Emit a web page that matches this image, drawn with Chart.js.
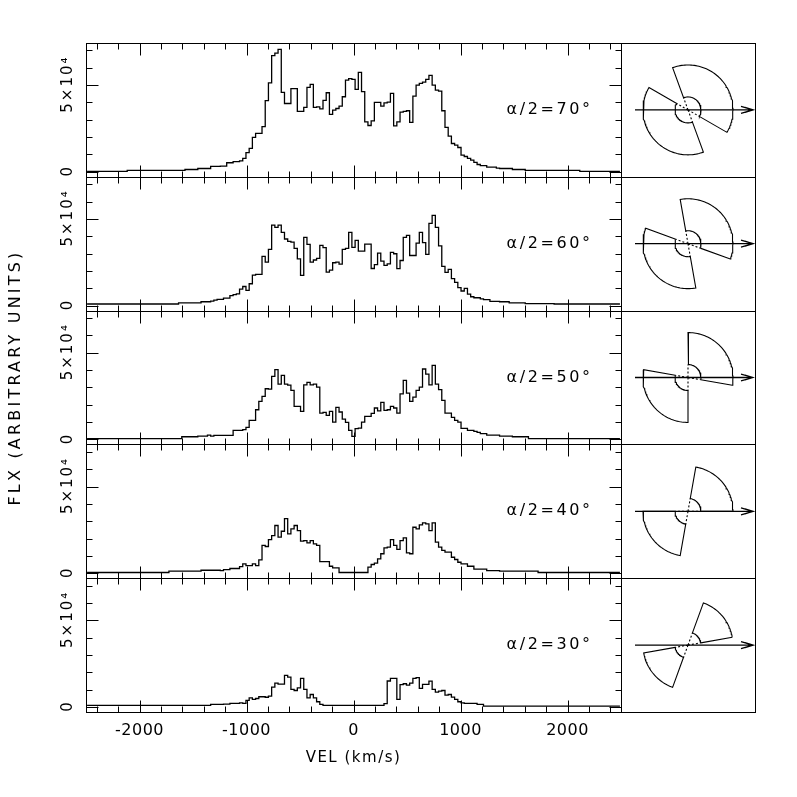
<!DOCTYPE html>
<html>
<head>
<meta charset="utf-8">
<script src="https://cdn.jsdelivr.net/npm/chart.js@4.4.1/dist/chart.umd.min.js"></script>
<style>
  html, body { margin: 0; padding: 0; background: #fff; }
  #wrap { position: relative; width: 797px; height: 797px; }
  #wrap canvas { position: absolute; left: 0; top: 0; }
</style>
</head>
<body>
<div id="wrap">
  <canvas id="spec" width="797" height="797"></canvas>
  <canvas id="cones" width="797" height="797"></canvas>
</div>
<script>
// velocity bins: centres from -2490 km/s, 30 km/s wide
var VEL_FIRST = -2490, VEL_STEP = 30;

// cone half opening angles, one per panel (top to bottom)
var halfAngles = [70, 60, 50, 40, 30];

// fluxes in units of 10^3 (arbitrary units), one value per velocity bin
var flux70 = [
  0.2,0.2,0.2,0.2,0.2,0.2,0.2,0.2,0.2,0.2,
  0.2,0.2,0.2,0.8,0.8,0.8,0.8,0.8,0.8,0.8,
  0.8,0.8,0.8,0.8,0.8,0.8,0.8,0.8,0.8,0.8,
  0.8,1.3,1.3,1.3,1.3,1.9,1.9,1.9,1.9,3.1,
  3.1,3.1,3.3,3.3,5.2,5.2,5.8,5.8,6.3,7.7,
  11,13.5,19.8,22.1,22.1,26,41,51.3,67,68.5,
  70.6,45.8,39.4,39.4,48,48,34.8,34.8,37.1,48.7,
  50.4,37.1,37.5,36.3,41.2,45.6,33.1,35.6,36.5,37.9,
  43.3,52.9,53.7,53.3,47.5,57.3,46.2,28.8,26.7,29.4,
  40,40,37.9,39.8,40.2,45.2,26.5,28.8,34.4,34.8,
  35.2,28.5,43.7,50,51,51.7,53.3,55.6,50,47.1,
  46.5,35.2,25.6,20.6,16.3,15.4,14,9.6,8.8,7.7,
  6.7,5.4,4.2,3.5,3.5,2.7,2.7,2.7,2.1,1.9,
  1.9,1.9,1.9,1.3,1.3,1.3,1.3,0.8,0.8,0.8,
  0.8,0.8,0.8,0.8,0.8,0.8,0.8,0.8,0.8,0.8,
  0.8,0.8,0.8,0.8,0.2,0.2,0.2,0.2,0.2,0.2,
  0.2,0.2,0.2,0.2,0.2,0.2,0.2
];
var flux60 = [
  0.9,0.9,0.9,0.9,0.9,0.9,0.9,0.9,0.9,0.9,
  0.9,0.9,0.9,0.9,0.9,0.9,0.9,0.9,0.9,0.9,
  0.9,0.9,0.9,0.9,0.9,0.9,0.9,0.9,0.9,1.6,
  1.6,1.6,1.6,1.6,1.6,1.6,2.2,2.2,2.2,2.6,
  3.2,3.6,3.6,4.3,4.3,5.7,6.3,6.8,9.5,11,
  8.8,12.6,17.6,18,18,28.4,25.1,32.4,46.4,45.1,
  46.4,42.2,38.4,37,36.6,33,27,17.4,39.3,35.3,
  25.1,26.3,27.2,34.7,33.4,19.3,20.5,24.7,25.1,23.9,
  32.4,33,42.2,33.6,37.6,31.4,31.4,35.5,35.5,21.4,
  23.6,30.3,25.7,23.2,24.1,30.7,29.9,21.3,26,39.3,
  40.5,28.9,28.9,36,42.2,36.3,29.5,47.4,52,45.1,
  34.5,22.6,19.1,20.9,15.5,13.4,10.3,8.4,9.9,6.6,
  5.1,4.5,4.5,3.9,3.4,3.4,2.4,2.4,2.4,2.2,
  2.2,2.2,1.6,1.6,1.6,1.6,1.6,1.1,1.1,1.1,
  1.1,1.1,1.1,1.1,1.1,1.1,0.9,0.9,0.9,0.9,
  0.9,0.9,0.9,0.9,0.9,0.9,0.9,0.9,0.9,0.9,
  0.9,0.9,0.9,0.9,0.9,0.9,0.9
];
var flux50 = [
  0.4,0.4,0.4,0.4,0.4,0.4,0.4,0.4,0.4,0.4,
  0.4,0.4,0.4,0.4,0.4,0.4,0.4,0.4,0.4,0.4,
  0.4,0.4,0.4,0.4,0.4,0.4,0.4,0.4,0.4,0.4,
  1.5,1.5,1.5,1.5,1.5,1.9,1.9,1.9,2.5,1.9,
  2.3,2.3,2.3,2.3,2.3,2.3,5.2,5.2,5.2,5.6,
  6.9,11,11,17.1,21.9,24.8,29.2,29,36.3,40.2,
  31.9,36.9,31.9,31.3,28.3,19,19,16.2,31.5,32.9,
  31.5,31.9,30.2,15.2,15.6,13.8,16.2,10,18.5,15.8,
  11.7,9.8,5.2,1.7,6.2,6.5,10,13.3,13.3,15,
  18.1,16.5,21.3,16.7,17.1,19,18.1,15.2,26.3,34,
  26.7,21.9,24.4,28.3,30.2,40.6,37.7,31.5,42.7,31.9,
  28.7,22.5,15.2,15.2,12.7,11,10,6.3,6.3,5.2,
  5.2,4.6,4,3.3,3.3,2.5,2.5,2.5,2.5,1.9,
  1.9,1.9,1.9,1.5,1.5,1.5,1.5,1.5,0.4,0.4,
  0.4,0.4,0.4,0.4,0.4,0.4,0.4,0.4,0.4,0.4,
  0.4,0.4,0.4,0.4,0.4,0.4,0.4,0.4,0.4,0.4,
  0.4,0.4,0.4,0.4,0.4,0.4,0.4
];
var flux40 = [
  0.4,0.4,0.4,0.4,0.4,0.4,0.4,0.4,0.4,0.4,
  0.4,0.4,0.4,0.4,0.4,0.4,0.4,0.4,0.4,0.4,
  0.4,0.4,0.4,0.4,0.4,0.4,1.2,1.2,1.2,1.2,
  1.2,1.2,1.2,1.2,1.2,1.2,1.7,1.7,1.7,1.7,
  1.7,1.7,1.5,2.1,2.1,2.7,2.7,2.7,3.8,5.4,
  4.4,4.4,5.4,4.4,7.7,16,15.4,19.4,21.7,27.5,
  20.8,24.2,31.5,22.7,25.6,27.5,24.6,18.5,18.8,17.5,
  18.8,16.9,16,6.7,6.7,6.7,4,3.1,3.1,0.4,
  0.4,0.4,0.4,0.4,0.4,0.4,0.4,0.4,3.5,5,
  5.8,8.3,11.2,14.6,15,19.4,16,13.7,18.8,20.4,
  11.7,11.2,26.5,25.6,27.9,29,28.5,24.6,29,17.9,
  15,13.1,12.1,12.1,9.2,7.9,6.3,5.4,5.4,4,
  4,2.3,2.3,2.3,2.3,1.5,1.5,1.5,1.5,1.2,
  1.2,1.2,1.2,1.2,1.2,1.2,1.2,1.2,1.2,1.2,
  1.2,0.4,0.4,0.4,0.4,0.4,0.4,0.4,0.4,0.4,
  0.4,0.4,0.4,0.4,0.4,0.4,0.4,0.4,0.4,0.4,
  0.4,0.4,0.4,0.4,0.4,0.4,0.4
];
var flux30 = [
  0.9,0.9,0.9,0.9,0.9,0.9,0.9,0.9,0.9,0.9,
  0.9,0.9,0.9,0.9,0.9,0.9,0.9,0.9,0.9,0.9,
  0.9,0.9,0.9,0.9,0.9,0.9,0.9,0.9,0.9,0.9,
  0.9,0.9,0.9,0.9,0.9,0.9,0.9,0.9,0.9,1.5,
  1.5,1.5,1.5,1.7,1.7,2.1,2.1,2.1,2.4,2.1,
  3.8,5.3,4.4,4.9,5.9,5.9,5.6,6.3,11.5,13.8,
  13.2,13.2,18.2,17.2,10.1,9.5,11,16.5,10.1,5.3,
  7.2,5.3,3,1.5,0.9,0.9,0.9,0.9,0.9,0.9,
  0.9,0.9,0.9,0.9,0.9,0.9,0.9,0.9,0.9,0.9,
  0.9,0.9,0.9,1.9,15,16.5,16.5,4.4,12.9,13.4,
  12.6,13.8,16.5,16.9,10.7,13,13,14.9,10.1,8.6,
  9.2,9.5,6.8,7.2,5.7,4.4,3,2.4,2.1,2.1,
  2.1,2.1,1.5,1.5,0.5,0.5,0.5,0.5,0.5,0.5,
  0.5,0.5,0.5,0.5,0.5,0.5,0.5,0.5,0.5,0.5,
  0.5,0.5,0.5,0.5,0.5,0.5,0.5,0.5,0.5,0.5,
  0.5,0.5,0.5,0.5,0.5,0.5,0.5,0.5,0.5,0.5,
  0.5,0.5,0.5,0.5,0.5,0.5,0.5
];

var panels = [flux70, flux60, flux50, flux40, flux30];

var xTickLabels = [-2000, -1000, 0, 1000, 2000];
var yTickValues = [0, 50];
var yTickLabels = ['0', '5\u00d710\u2074'];

var X_MIN = -2500, X_MAX = 2500;
var Y_MIN = -2.9, Y_MAX = 74.3;

// cone sketch sizes, in pixels of the 134px box
var CONE_AXIS = 40, R_OUT = 45, R_IN = 13;

var FONT = '"DejaVu Sans", sans-serif';

function crisp(v) { return Math.round(v) + 0.5; }

function spacedText(ctx, text, x, y, spacing) {
  ctx.letterSpacing = spacing + 'px';
  ctx.fillText(text, x, y);
  ctx.letterSpacing = '0px';
}

// ---- spectra ----
var specScales = { x: { type: 'linear', min: X_MIN, max: X_MAX, display: false } };
for (var n = panels.length - 1; n >= 0; n--) {
  // last defined axis is stacked on top
  specScales['f' + n] = { type: 'linear', min: Y_MIN, max: Y_MAX, display: false, stack: 'flux', stackWeight: 1 };
}

var specSets = panels.map(function (flux, n) {
  return {
    data: flux.map(function (f, i) { return { x: VEL_FIRST + VEL_STEP * i, y: f }; }),
    xAxisID: 'x',
    yAxisID: 'f' + n,
    stepped: 'middle',
    borderColor: '#000',
    borderWidth: 1.3,
    pointRadius: 0,
    fill: false
  };
});

var specDecor = {
  id: 'specDecor',
  afterDraw: function (chart) {
    var ctx = chart.ctx, area = chart.chartArea, xs = chart.scales.x;
    ctx.save();
    ctx.strokeStyle = '#000';
    ctx.fillStyle = '#000';
    ctx.lineWidth = 1;

    panels.forEach(function (flux, n) {
      var ys = chart.scales['f' + n];
      var L = crisp(area.left), R = crisp(area.right), T = crisp(ys.top), B = crisp(ys.bottom);
      ctx.strokeRect(L, T, R - L, B - T);

      ctx.beginPath();
      for (var v = -2400; v <= 2400; v += 200) {
        var x = crisp(xs.getPixelForValue(v));
        var len = v % 1000 === 0 ? 12 : 6;
        ctx.moveTo(x, T); ctx.lineTo(x, T + len);
        ctx.moveTo(x, B); ctx.lineTo(x, B - len);
      }
      for (var f = 0; f <= 70; f += 10) {
        var y = crisp(ys.getPixelForValue(f));
        var len2 = yTickValues.indexOf(f) >= 0 ? 12 : 6;
        ctx.moveTo(L, y); ctx.lineTo(L + len2, y);
        ctx.moveTo(R, y); ctx.lineTo(R - len2, y);
      }
      ctx.stroke();

      // rotated y tick labels
      ctx.font = '15px ' + FONT;
      ctx.textAlign = 'center';
      ctx.textBaseline = 'middle';
      yTickValues.forEach(function (val, j) {
        ctx.save();
        ctx.translate(68, ys.getPixelForValue(val));
        ctx.rotate(-Math.PI / 2);
        spacedText(ctx, yTickLabels[j], 1, 0, 2);
        ctx.restore();
      });

      // panel label
      ctx.font = '16px ' + FONT;
      ctx.textAlign = 'left';
      spacedText(ctx, '\u03b1/2=' + halfAngles[n] + '\u00b0', xs.getPixelForValue(1430),
        (ys.top + ys.bottom) / 2, 2.6);
    });

    // x tick labels under the last panel
    var last = chart.scales['f' + (panels.length - 1)];
    ctx.font = '16px ' + FONT;
    ctx.textAlign = 'center';
    ctx.textBaseline = 'middle';
    xTickLabels.forEach(function (v) {
      spacedText(ctx, String(v), xs.getPixelForValue(v), last.bottom + 19, 0.5);
    });

    ctx.font = '15px ' + FONT;
    spacedText(ctx, 'VEL (km/s)', (area.left + area.right) / 2, last.bottom + 46, 1.5);

    ctx.font = '16px ' + FONT;
    ctx.save();
    ctx.translate(16, (area.top + area.bottom) / 2);
    ctx.rotate(-Math.PI / 2);
    spacedText(ctx, 'FLX (ARBITRARY UNITS)', 0, 0, 3.2);
    ctx.restore();

    ctx.restore();
  }
};

new Chart(document.getElementById('spec'), {
  type: 'line',
  data: { datasets: specSets },
  options: {
    responsive: false,
    animation: false,
    events: [],
    layout: { padding: { left: 86, right: 176, top: 43, bottom: 85 }, autoPadding: false },
    plugins: { legend: { display: false }, tooltip: { enabled: false } },
    scales: specScales
  },
  plugins: [specDecor]
});

// ---- cone sketches ----
function polar(r, deg) {
  var a = deg * Math.PI / 180;
  return { x: r * Math.cos(a), y: r * Math.sin(a) };
}
function arc(r, from, to) {
  var pts = [], step = from < to ? 2 : -2;
  for (var a = from; step > 0 ? a < to : a > to; a += step) pts.push(polar(r, a));
  pts.push(polar(r, to));
  return pts;
}
function wedge(centre, half) {
  var a1 = centre - half, a2 = centre + half;
  return [polar(R_IN, a1)].concat(arc(R_OUT, a1, a2), arc(R_IN, a2, a1));
}
var GAP = { x: NaN, y: NaN };

var coneScales = { x: { type: 'linear', min: -67, max: 67, display: false } };
for (n = halfAngles.length - 1; n >= 0; n--) {
  coneScales['c' + n] = { type: 'linear', min: -67, max: 67, display: false, stack: 'cone', stackWeight: 1 };
}

var coneSets = [];
halfAngles.forEach(function (half, n) {
  var lineBase = { xAxisID: 'x', yAxisID: 'c' + n, showLine: true, pointRadius: 0, borderColor: '#000', fill: false };
  coneSets.push(Object.assign({}, lineBase, {
    data: wedge(CONE_AXIS, half).concat([GAP], wedge(CONE_AXIS + 180, half)),
    borderWidth: 1.1
  }));
  var dashes = [];
  [CONE_AXIS - half, CONE_AXIS + half, CONE_AXIS + 180 - half, CONE_AXIS + 180 + half].forEach(function (a) {
    dashes.push({ x: 0, y: 0 }, polar(R_IN, a), GAP);
  });
  coneSets.push(Object.assign({}, lineBase, { data: dashes, borderWidth: 1.1, borderDash: [2, 2] }));
  coneSets.push(Object.assign({}, lineBase, {
    data: [{ x: -53, y: 0 }, { x: 65, y: 0 }, GAP, { x: 53, y: 3.5 }, { x: 65, y: 0 }, { x: 53, y: -3.5 },
      GAP, { x: 57, y: 2.5 }, { x: 65, y: 0 }, { x: 57, y: -2.5 }],
    borderWidth: 1.3
  }));
});

var coneDecor = {
  id: 'coneDecor',
  afterDraw: function (chart) {
    var ctx = chart.ctx, area = chart.chartArea;
    ctx.save();
    ctx.strokeStyle = '#000';
    ctx.lineWidth = 1;
    halfAngles.forEach(function (half, n) {
      var ys = chart.scales['c' + n];
      var L = crisp(area.left), R = crisp(area.right), T = crisp(ys.top), B = crisp(ys.bottom);
      ctx.strokeRect(L, T, R - L, B - T);
    });
    ctx.restore();
  }
};

new Chart(document.getElementById('cones'), {
  type: 'scatter',
  data: { datasets: coneSets },
  options: {
    responsive: false,
    animation: false,
    events: [],
    layout: { padding: { left: 621, right: 42, top: 43, bottom: 85 }, autoPadding: false },
    plugins: { legend: { display: false }, tooltip: { enabled: false } },
    scales: coneScales
  },
  plugins: [coneDecor]
});
</script>
</body>
</html>
